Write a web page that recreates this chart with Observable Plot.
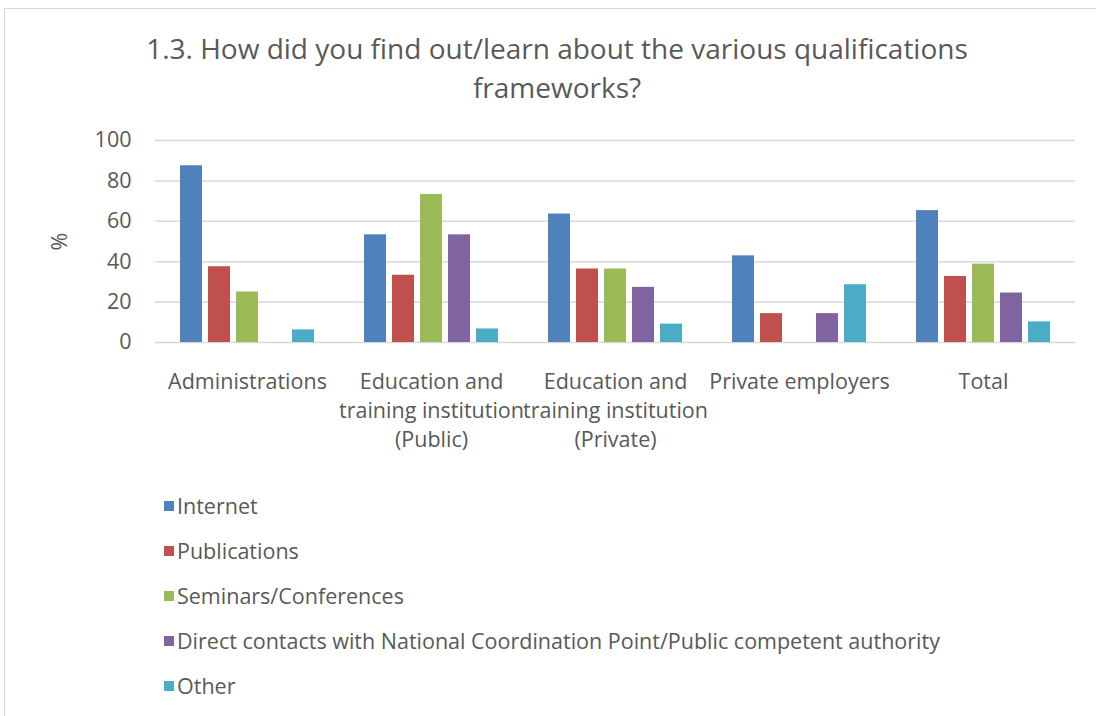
<!DOCTYPE html>
<html>
<head>
<meta charset="utf-8">
<script src="https://cdn.jsdelivr.net/npm/d3@7"></script>
<script src="https://cdn.jsdelivr.net/npm/@observablehq/plot@0.6"></script>
<style>
  html, body { margin: 0; padding: 0; background: #fff; }
  #wrap { position: relative; width: 1096px; height: 716px; overflow: hidden; font-family: "Open Sans", sans-serif; color: #595959; }
  #frame { position: absolute; left: 4px; top: 8px; width: 1200px; height: 800px; border: 1.5px solid #d9d9d9; box-sizing: border-box; }
  #title { position: absolute; left: 0; width: 1114px; top: 29px; text-align: center; font-size: 28px; line-height: 39px; color: #595959; }
  #chart { position: absolute; left: 0; top: 120px; }
  #legend { position: absolute; left: 164px; top: 483px; font-size: 21.5px; color: #595959; }
  .item { height: 45px; line-height: 45px; display: flex; align-items: center; }
  .sw { width: 10px; height: 10px; margin-right: 3px; display: inline-block; }
</style>
</head>
<body>
<div id="wrap">
  <div id="frame"></div>
  <div id="title">1.3. How did you find out/learn about the various qualifications<br>frameworks?</div>
  <div id="chart"></div>
  <div id="legend"></div>
</div>
<script>
const categories = [
  "Administrations",
  "Education and training institution (Public)",
  "Education and training institution (Private)",
  "Private employers",
  "Total"
];
const categoryLabels = [
  "Administrations",
  "Education and\ntraining institution\n(Public)",
  "Education and\ntraining institution\n(Private)",
  "Private employers",
  "Total"
];
const series = [
  "Internet",
  "Publications",
  "Seminars/Conferences",
  "Direct contacts with National Coordination Point/Public competent authority",
  "Other"
];
const colors = ["#4f81bd", "#c0504d", "#9bbb59", "#8064a2", "#4bacc6"];
const internet     = [87.5, 53.3, 63.6, 42.9, 65.3];
const publications = [37.5, 33.3, 36.4, 14.3, 32.7];
const seminars     = [25.0, 73.3, 36.4, 0.0, 38.8];
const direct       = [0.0, 53.3, 27.3, 14.3, 24.5];
const other        = [6.25, 6.7, 9.1, 28.6, 10.2];
const yTicks = [0, 20, 40, 60, 80, 100];

const valuesBySeries = [internet, publications, seminars, direct, other];
const data = [];
categories.forEach((c, i) => {
  series.forEach((s, j) => {
    data.push({category: c, series: s, value: valuesBySeries[j][i]});
  });
});
const labelOf = new Map(categories.map((c, i) => [c, categoryLabels[i]]));

const chart = Plot.plot({
  width: 1096,
  height: 340,
  marginTop: 20,
  marginBottom: 118,
  marginLeft: 154,
  marginRight: 20,
  style: {fontFamily: "'Open Sans', sans-serif", fontSize: "21.5px", color: "#595959", background: "transparent"},
  fx: {domain: categories, padding: 0, label: null},
  x: {domain: series, paddingInner: 0.22, paddingOuter: 0.87, axis: null},
  y: {domain: [0, 100], label: null},
  color: {domain: series, range: colors},
  marks: [
    Plot.gridY(yTicks, {stroke: "#d9d9d9", strokeOpacity: 1, strokeWidth: 1.5}),
    Plot.barY(data, {fx: "category", x: "series", y: "value", fill: "series"}),
    Plot.axisY(yTicks, {tickSize: 0, tickPadding: 24, fontSize: 21.5, label: "%", labelAnchor: "center", labelArrow: "none", labelOffset: 104, color: "#595959"}),
    Plot.axisFx({anchor: "bottom", tickSize: 0, tickPadding: 26, fontSize: 21.5, lineHeight: 1.35, tickFormat: d => labelOf.get(d), label: null, color: "#595959"})
  ]
});
document.getElementById("chart").appendChild(chart);

const legend = document.getElementById("legend");
series.forEach((s, j) => {
  const row = document.createElement("div");
  row.className = "item";
  const sw = document.createElement("span");
  sw.className = "sw";
  sw.style.background = colors[j];
  const t = document.createElement("span");
  t.textContent = s;
  row.appendChild(sw);
  row.appendChild(t);
  legend.appendChild(row);
});
</script>
</body>
</html>
